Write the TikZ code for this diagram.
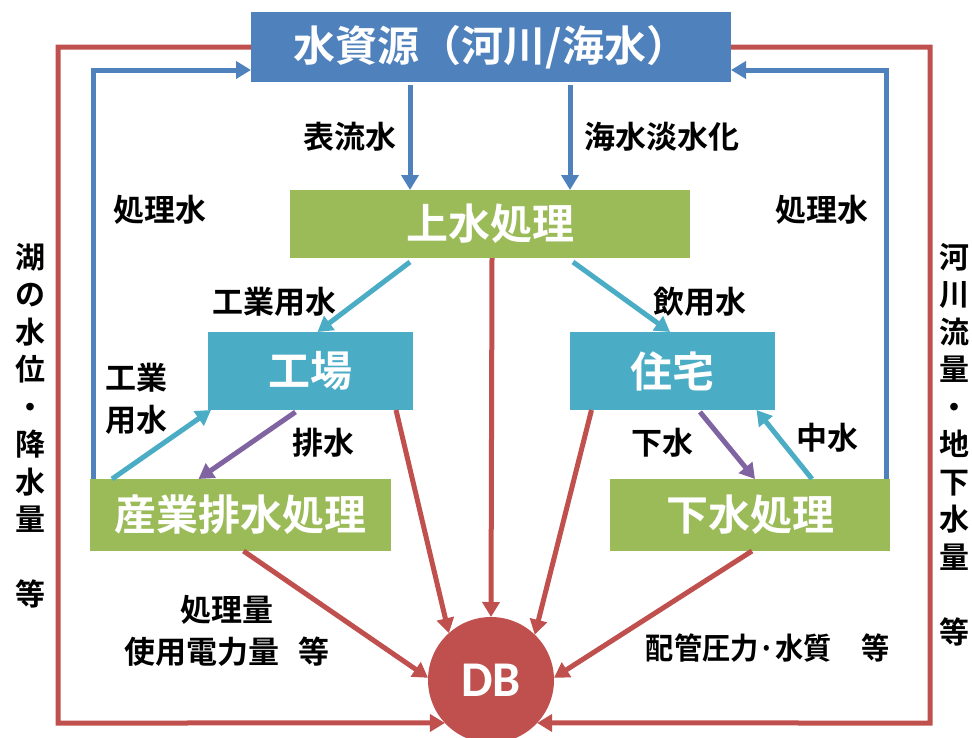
\documentclass[tikz,border=0pt]{standalone}
\usepackage{fontspec}
\newfontfamily\jpb{Noto Sans CJK JP Bold}
\newfontfamily\jpbn{Noto Sans CJK JP Bold}[FakeStretch=0.94]
\newfontfamily\dbfont{Carlito}
\usetikzlibrary{calc,arrows.meta}
\definecolor{cBlue}{HTML}{4F81BD}
\definecolor{cGreen}{HTML}{9BBB59}
\definecolor{cCyan}{HTML}{4BACC6}
\definecolor{cRed}{HTML}{C0504D}
\definecolor{cPurple}{HTML}{8064A2}
\tikzset{
  boxbase/.style={inner sep=0pt, outer sep=0pt, text=white, font=\jpb\fontsize{42}{44}\selectfont},
  bluebox/.style={boxbase, fill=cBlue, minimum width=480pt, minimum height=70pt},
  greenbox/.style={boxbase, fill=cGreen},
  cyanbox/.style={boxbase, fill=cCyan, minimum width=205pt, minimum height=78pt},
  lbl/.style={inner sep=0pt, font=\jpb\fontsize{31}{33}\selectfont, text=black},
  vlbl/.style={inner sep=0pt, align=center, font=\jpb\fontsize{30}{37.5}\selectfont, text=black},
  tipc/.style={-{Triangle[length=15pt,width=17pt]}},
  conn/.style={line width=5pt, tipc},
  blueconn/.style={conn, draw=cBlue},
  cyanconn/.style={conn, draw=cCyan},
  redconn/.style={conn, draw=cRed},
  purpconn/.style={conn, draw=cPurple},
}
\begin{document}
\begin{tikzpicture}[x=1pt,y=-1pt]
\useasboundingbox (0,0) rectangle (972,737);

% nodes
\node[bluebox] (water) at (491,47) {水資源（河川/海水）};
\node[greenbox, minimum width=400pt, minimum height=68pt] (josui) at (490,224) {上水処理};
\node[cyanbox] (kojo) at (310.5,371) {工場};
\node[cyanbox] (jutaku) at (672,371) {住宅};
\node[greenbox, minimum width=301pt, minimum height=72pt] (sanpai) at (240.5,515) {産業排水処理};
\node[greenbox, minimum width=280pt, minimum height=72pt] (gesui) at (750,515) {下水処理};
\node[circle, fill=cRed, minimum size=126pt, inner sep=0pt, outer sep=0pt, text=white,
      font=\dbfont\bfseries\fontsize{50}{52}\selectfont] (db) at (491,680) {DB};

\coordinate (lc) at (58,723);
\coordinate (rc) at (930,723);

% outer red loops
\draw[redconn] (water.west) -| (lc) -- (db.223);
\draw[redconn] (water.east) -| (rc) -- (db.317);

% blue return lines
\draw[blueconn] ($(sanpai.north west)+(3,0)$) |- ($(water.south west)+(0,-12)$);
\draw[blueconn] ($(gesui.north east)+(-4,0)$) |- ($(water.south east)+(0,-12)$);

% blue down arrows
\draw[blueconn] ($(water.south)+(-81,3)$) -- ($(josui.north)+(-80,0)$);
\draw[blueconn] ($(water.south)+(79,3)$) -- ($(josui.north)+(80,0)$);

% cyan supply
\draw[cyanconn] ($(josui.south)+(-80,4)$) -- ($(kojo.north)+(7,0)$);
\draw[cyanconn] ($(josui.south)+(83,4)$) -- ($(jutaku.north)+(-2,0)$);
\draw[cyanconn] ($(sanpai.north west)+(22,0)$) -- ($(kojo.south west)+(3,0)$);
\draw[cyanconn] ($(gesui.north)+(62,0)$) -- ($(jutaku.south east)+(-18,0)$);

% purple drains
\draw[purpconn] ($(kojo.south)+(-15,2)$) -- ($(sanpai.north)+(-42,0)$);
\draw[purpconn] ($(jutaku.south)+(28,2)$) -- ($(gesui.north)+(5,0)$);

% red data lines
\draw[redconn] ($(kojo.south east)+(-17,0)$) -- (db.132);
\draw[redconn] ($(josui.south)+(2,0)$) -- (db.90);
\draw[redconn] ($(jutaku.south west)+(22,0)$) -- (db.46);
\draw[redconn] ($(sanpai.south)+(3,0)$) -- (db.178);
\draw[redconn] ($(gesui.south)+(2,0)$) -- (db.2);

% labels
\node[lbl] (l1) at (350,137) {表流水};
\node[lbl] (l2) at (662,137) {海水淡水化};
\node[lbl] (l3) at (160,210) {処理水};
\node[lbl] (l4) at (822,210) {処理水};
\node[lbl] (l5) at (274,302) {工業用水};
\node[lbl] (l6) at (700,302) {飲用水};
\node[lbl] (l7a) at (136,378) {工業};
\node[lbl] (l7b) at (136,420) {用水};
\node[lbl] (l8) at (323,443) {排水};
\node[lbl] (l9) at (662,443) {下水};
\node[lbl] (l10) at (827,438) {中水};
\node[lbl] (l11) at (227,610) {処理量};
\node[lbl] (l12) at (227,652) {使用電力量\hspace{20pt}等};
\node[lbl, font=\jpbn\fontsize{30}{32}\selectfont] (l13) at (768,648) {配管圧力·水質\hspace{30pt}等};

% side vertical texts
\node[vlbl, anchor=north] (sideL) at (30,243) {湖\\の\\水\\位\\・\\降\\水\\量\\\mbox{}\\等};
\node[vlbl, anchor=north] (sideR) at (954,243) {河\\川\\流\\量\\・\\地\\下\\水\\量\\\mbox{}\\等};
\end{tikzpicture}
\end{document}
